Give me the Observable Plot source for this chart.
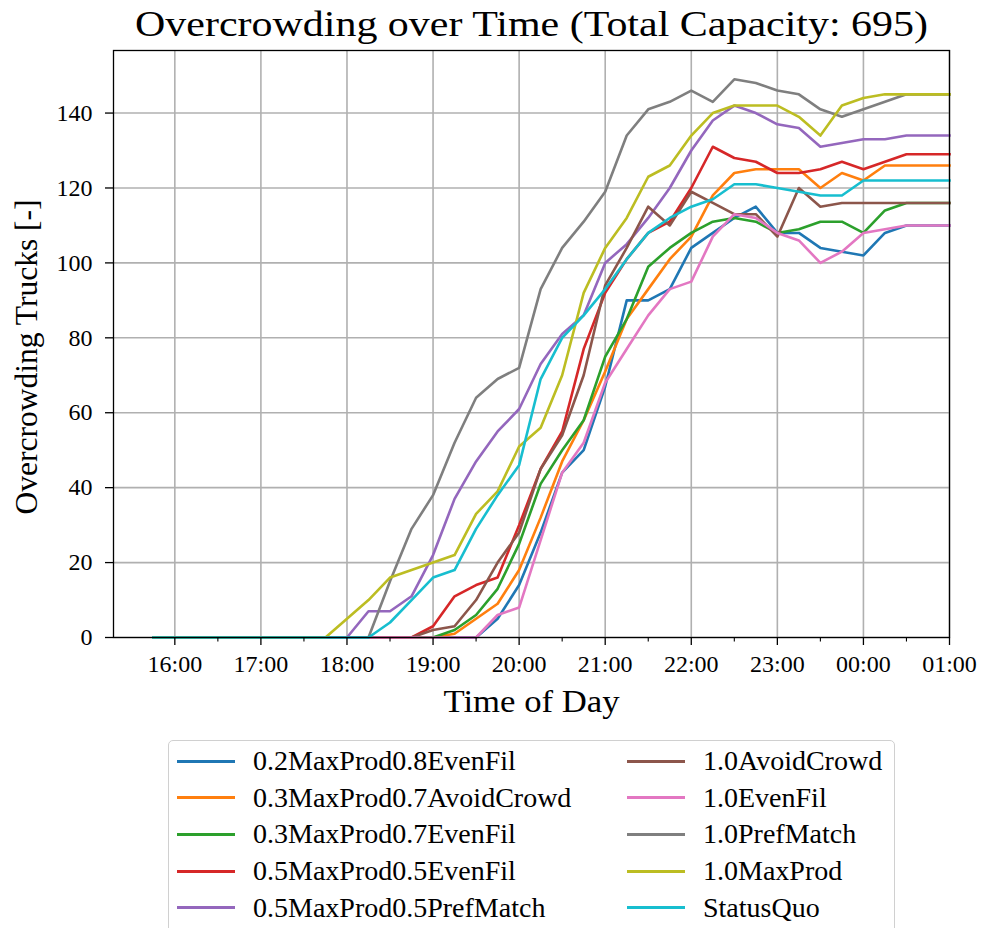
<!DOCTYPE html>
<html>
<head>
<meta charset="utf-8">
<script src="https://cdn.jsdelivr.net/npm/d3@7"></script>
<script src="https://cdn.jsdelivr.net/npm/@observablehq/plot@0.6"></script>
<style>
  html, body { margin: 0; padding: 0; background: #fff; }
  #page { position: relative; width: 982px; height: 928px; overflow: hidden; font-family: "Liberation Serif", "DejaVu Serif", serif; }
  #chart { position: absolute; left: 0; top: 0; }
  #legend {
    position: absolute; left: 168px; top: 740px; width: 727px; height: 200px;
    border: 1.5px solid #d0d0d0; border-radius: 5px; box-sizing: border-box; background: rgba(255,255,255,0.8);
  }
  .item { position: absolute; height: 30px; display: flex; align-items: center; font-size: 28px; color: #000; white-space: nowrap; }
  .swatch { width: 58px; height: 0; border-top: 3px solid; margin-right: 18px; }
</style>
</head>
<body>
<div id="page">
  <div id="chart"></div>
  <div id="legend"></div>
</div>
<script>
// Time of day, one sample every 15 minutes (after midnight belongs to the next day)
const times = ["15:45","16:00","16:15","16:30","16:45","17:00","17:15","17:30","17:45","18:00",
  "18:15","18:30","18:45","19:00","19:15","19:30","19:45","20:00","20:15","20:30",
  "20:45","21:00","21:15","21:30","21:45","22:00","22:15","22:30","22:45","23:00",
  "23:15","23:30","23:45","00:00","00:15","00:30","00:45","01:00"];

const seriesNames = ["0.2MaxProd0.8EvenFil","0.3MaxProd0.7AvoidCrowd","0.3MaxProd0.7EvenFil",
  "0.5MaxProd0.5EvenFil","0.5MaxProd0.5PrefMatch","1.0AvoidCrowd","1.0EvenFil",
  "1.0PrefMatch","1.0MaxProd","StatusQuo"];
const seriesColors = ["#1f77b4","#ff7f0e","#2ca02c","#d62728","#9467bd","#8c564b","#e377c2",
  "#7f7f7f","#bcbd22","#17becf"];

// Overcrowding trucks per scenario
const maxProd02EvenFil08 = [0,0,0,0,0,0,0,0,0,0, 0,0,0,0,0,0,5,14,28,44, 50,67,90,90,93,104,108,112,115,108, 108,104,103,102,108,110,110,110];
const maxProd03AvoidCrowd07 = [0,0,0,0,0,0,0,0,0,0, 0,0,0,0,1,5,9,18,32,47, 58,71,85,93,101,107,118,124,125,125, 125,120,124,122,126,126,126,126];
const maxProd03EvenFil07 = [0,0,0,0,0,0,0,0,0,0, 0,0,0,0,2,6,13,25,41,50, 58,75,85,99,104,108,111,112,111,108, 109,111,111,108,114,116,116,116];
const maxProd05EvenFil05 = [0,0,0,0,0,0,0,0,0,0, 0,0,0,3,11,14,16,30,45,55, 77,92,101,108,111,120,131,128,127,124, 124,125,127,125,127,129,129,129];
const maxProd05PrefMatch05 = [0,0,0,0,0,0,0,0,0,0, 7,7,11,22,37,47,55,61,73,81, 86,100,105,112,120,130,138,142,140,137, 136,131,132,133,133,134,134,134];
const avoidCrowd10 = [0,0,0,0,0,0,0,0,0,0, 0,0,0,2,3,10,20,28,45,54, 70,94,104,115,110,119,116,113,113,107, 120,115,116,116,116,116,116,116];
const evenFil10 = [0,0,0,0,0,0,0,0,0,0, 0,0,0,0,0,0,6,8,26,44, 52,68,77,86,93,95,107,113,112,108, 106,100,103,108,109,110,110,110];
const prefMatch10 = [0,0,0,0,0,0,0,0,0,0, 0,15,29,38,52,64,69,72,93,104, 111,119,134,141,143,146,143,149,148,146, 145,141,139,141,143,145,145,145];
const maxProd10 = [0,0,0,0,0,0,0,0,0,5, 10,16,18,20,22,33,39,51,56,70, 92,104,112,123,126,134,140,142,142,142, 139,134,142,144,145,145,145,145];
const statusQuo = [0,0,0,0,0,0,0,0,0,0, 0,4,10,16,18,29,38,46,69,80, 86,93,101,108,112,115,117,121,121,120, 119,118,118,122,122,122,122,122];

const seriesValues = [maxProd02EvenFil08, maxProd03AvoidCrowd07, maxProd03EvenFil07, maxProd05EvenFil05,
  maxProd05PrefMatch05, avoidCrowd10, evenFil10, prefMatch10, maxProd10, statusQuo];

// Axis ticks
const hourTicks = ["16:00","17:00","18:00","19:00","20:00","21:00","22:00","23:00","00:00","01:00"];
const halfHourTicks = ["16:30","17:30","18:30","19:30","20:30","21:30","22:30","23:30","00:30"];
const yTicks = [0,20,40,60,80,100,120,140];

const titleText = "Overcrowding over Time (Total Capacity: 695)";
const xLabel = "Time of Day";
const yLabel = "Overcrowding Trucks [-]";

function toDate(s) {
  const [h, m] = s.split(":").map(Number);
  return new Date(Date.UTC(2024, 0, h < 12 ? 2 : 1, h, m));
}

const rows = [];
seriesNames.forEach((name, i) => {
  times.forEach((t, j) => rows.push({series: name, time: toDate(t), value: seriesValues[i][j]}));
});

const gridStyle = {stroke: "#b0b0b0", strokeOpacity: 1, strokeWidth: 1.6};
const font = "Liberation Serif";

const chart = Plot.plot({
  width: 982,
  height: 720,
  marginTop: 50,
  marginBottom: 83,
  marginLeft: 113,
  marginRight: 33,
  style: {fontFamily: font, color: "#000", background: "#fff"},
  x: {type: "utc", domain: [new Date(Date.UTC(2024, 0, 1, 15, 17, 15)), toDate("01:00")]},
  y: {domain: [0, 156.7]},
  color: {domain: seriesNames, range: seriesColors},
  marks: [
    Plot.gridX(hourTicks.map(toDate), gridStyle),
    Plot.gridY(yTicks, gridStyle),
    Plot.line(rows, {x: "time", y: "value", z: "series", stroke: "series", strokeWidth: 2.6, strokeLinejoin: "round", strokeLinecap: "square"}),
    Plot.axisX(hourTicks.map(toDate), {tickFormat: d3.utcFormat("%H:%M"), tickSize: 8, tickPadding: 9, fontSize: 24, strokeWidth: 1.3, label: null}),
    Plot.axisX(halfHourTicks.map(toDate), {tickFormat: () => "", tickSize: 4.5, strokeWidth: 1.1, label: null}),
    Plot.axisY(yTicks, {tickSize: 8, tickPadding: 13, fontSize: 24, strokeWidth: 1.3, label: null}),
    Plot.text([titleText], {frameAnchor: "top", dy: -26, fontSize: 36, lineAnchor: "middle"}),
    Plot.text([xLabel], {frameAnchor: "bottom", dy: 64, fontSize: 32, lineAnchor: "middle"}),
    Plot.text([yLabel], {frameAnchor: "left", dx: -86, dy: 13, rotate: -90, textAnchor: "middle", fontSize: 31, lineAnchor: "middle"}),
    Plot.frame({stroke: "#000", strokeWidth: 1.3})
  ]
});

// Widen the title and axis labels to the set lengths
const textLengths = new Map([[titleText, 793], [xLabel, 176], [yLabel, 315]]);
for (const t of chart.querySelectorAll("text")) {
  const len = textLengths.get(t.textContent);
  if (len) {
    t.setAttribute("textLength", len);
    t.setAttribute("lengthAdjust", "spacingAndGlyphs");
  }
}
document.getElementById("chart").appendChild(chart);

// Legend: two columns of five entries
const legend = document.getElementById("legend");
const colorScale = chart.scale("color");
seriesNames.forEach((name, i) => {
  const col = Math.floor(i / 5), row = i % 5;
  const item = document.createElement("div");
  item.className = "item";
  item.style.left = (col === 0 ? 8 : 458) + "px";
  item.style.top = (5 + row * 36.7) + "px";
  const sw = document.createElement("span");
  sw.className = "swatch";
  sw.style.borderTopColor = colorScale.range[colorScale.domain.indexOf(name)];
  const label = document.createElement("span");
  label.textContent = name;
  item.appendChild(sw);
  item.appendChild(label);
  legend.appendChild(item);
});
</script>
</body>
</html>
